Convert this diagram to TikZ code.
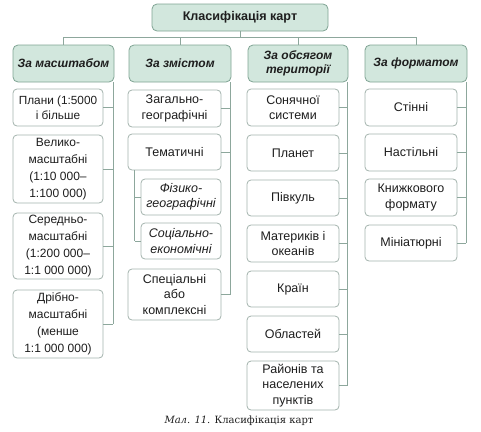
\documentclass[tikz,border=0pt]{standalone}
\usepackage{fontspec}
\setmainfont{Liberation Sans}
\newfontfamily\capfont{DejaVu Serif}
\definecolor{headfill}{HTML}{D2E7DD}
\definecolor{headline}{HTML}{7FA393}
\definecolor{boxline}{HTML}{A3B3AD}
\definecolor{linkc}{HTML}{8DA79C}
\definecolor{txt}{HTML}{1E1E1E}
\begin{document}
\begin{tikzpicture}[x=1pt,y=-1pt,
  box/.style={draw=boxline, fill=white, rounded corners=4pt, line width=0.8pt, align=center, inner sep=1pt, text=txt, font=\fontsize{12.5}{15.5}\selectfont},
  boxa/.style={box, font=\fontsize{12}{17}\selectfont},
  boxi/.style={box, font=\fontsize{12.5}{15.5}\selectfont\itshape},
  head/.style={draw=headline, fill=headfill, rounded corners=5pt, line width=0.8pt, align=center, inner sep=1pt, text=txt, font=\fontsize{12}{13.5}\selectfont\bfseries\itshape},
  link/.style={draw=linkc, line width=0.8pt}]
\useasboundingbox (0,0) rectangle (481,431);
% top
\node[head, font=\fontsize{12.6}{14}\selectfont\bfseries, minimum width=176pt, minimum height=27pt] (top) at (240,17.5) {Класифікація карт};
% headers
\node[head, minimum width=101pt, minimum height=37pt] (h1) at (63.5,63.5) {За масштабом};
\node[head, minimum width=102pt, minimum height=37pt] (h2) at (180,63.5) {За змістом};
\node[head, minimum width=100pt, minimum height=37pt] (h3) at (298,63.5) {За обсягом\\території};
\node[head, minimum width=102pt, minimum height=37pt] (h4) at (416,63.5) {За форматом};
% column 1
\node[boxa, font=\fontsize{11.8}{15}\selectfont, minimum width=90pt, minimum height=37pt] (a1) at (58,107.5) {Плани (1:5000\\і більше};
\node[boxa, minimum width=90pt, minimum height=68pt] (a2) at (58,169) {Велико-\\масштабні\\(1:10 000–\\1:100 000)};
\node[boxa, minimum width=90pt, minimum height=66pt] (a3) at (58,246) {Середньо-\\масштабні\\(1:200 000–\\1:1 000 000)};
\node[boxa, minimum width=90pt, minimum height=68pt] (a4) at (58,324) {Дрібно-\\масштабні\\(менше\\1:1 000 000)};
% column 2
\node[box, minimum width=93pt, minimum height=37pt] (b1) at (174.5,108.5) {Загально-\\географічні};
\node[box, minimum width=93pt, minimum height=36pt] (b2) at (174.5,152) {Тематичні};
\node[boxi, minimum width=80pt, minimum height=36pt] (b3) at (181,197) {Фізико-\\географічні};
\node[boxi, minimum width=80pt, minimum height=36pt] (b4) at (181,241) {Соціально-\\економічні};
\node[box, minimum width=93pt, minimum height=51pt] (b5) at (174.5,294.5) {Спеціальні\\або\\комплексні};
% column 3
\node[box, minimum width=92pt, minimum height=37pt] (c1) at (293,107.5) {Сонячної\\системи};
\node[box, minimum width=92pt, minimum height=36pt] (c2) at (293,153) {Планет};
\node[box, minimum width=92pt, minimum height=36pt] (c3) at (293,198) {Півкуль};
\node[box, minimum width=92pt, minimum height=37pt] (c4) at (293,243.5) {Материків і\\океанів};
\node[box, minimum width=92pt, minimum height=36pt] (c5) at (293,289) {Країн};
\node[box, minimum width=92pt, minimum height=36pt] (c6) at (293,334) {Областей};
\node[box, minimum width=92pt, minimum height=49pt] (c7) at (293,385.5) {Районів та\\населених\\пунктів};
% column 4
\node[box, minimum width=92pt, minimum height=37pt] (d1) at (411,107.5) {Стінні};
\node[box, minimum width=92pt, minimum height=37pt] (d2) at (411,152.5) {Настільні};
\node[box, minimum width=92pt, minimum height=37pt] (d3) at (411,197.5) {Книжкового\\формату};
\node[box, minimum width=92pt, minimum height=36pt] (d4) at (411,243) {Мініатюрні};
% top connectors
\coordinate (bus) at (240,37);
\draw[link] (top.south) -- (bus);
\draw[link] (bus -| h1.north) -- (bus -| h4.north);
\foreach \h in {h1,h2,h3,h4} \draw[link] (bus -| \h.north) -- (\h.north);
% column connectors
\coordinate (v1) at ([xshift=-1pt]h1.south east);
\coordinate (v2) at ([xshift=-1pt]h2.south east);
\coordinate (v3) at ([xshift=-1pt]h3.south east);
\coordinate (v4) at ([xshift=-1pt]h4.south east);
\draw[link] (v1) -- (v1 |- a4.east);
\foreach \n in {a1,a2,a3,a4} \draw[link] (\n.east) -- (\n.east -| v1);
\draw[link] (v2) -- (v2 |- b5.east);
\foreach \n in {b1,b2,b5} \draw[link] (\n.east) -- (\n.east -| v2);
\coordinate (vt) at ([xshift=7pt]b2.south west);
\draw[link] (vt) -- (vt |- b4.west);
\foreach \n in {b3,b4} \draw[link] (\n.west) -- (\n.west -| vt);
\draw[link] (v3) -- (v3 |- c7.east);
\foreach \n in {c1,c2,c3,c4,c5,c6,c7} \draw[link] (\n.east) -- (\n.east -| v3);
\draw[link] (v4) -- (v4 |- d4.east);
\foreach \n in {d1,d2,d3,d4} \draw[link] (\n.east) -- (\n.east -| v4);
% caption
\node[text=txt, font=\capfont\fontsize{10}{12}\selectfont] (cap) at (239,421) {\textit{Мал. 11.} Класифікація карт};
\end{tikzpicture}
\end{document}
